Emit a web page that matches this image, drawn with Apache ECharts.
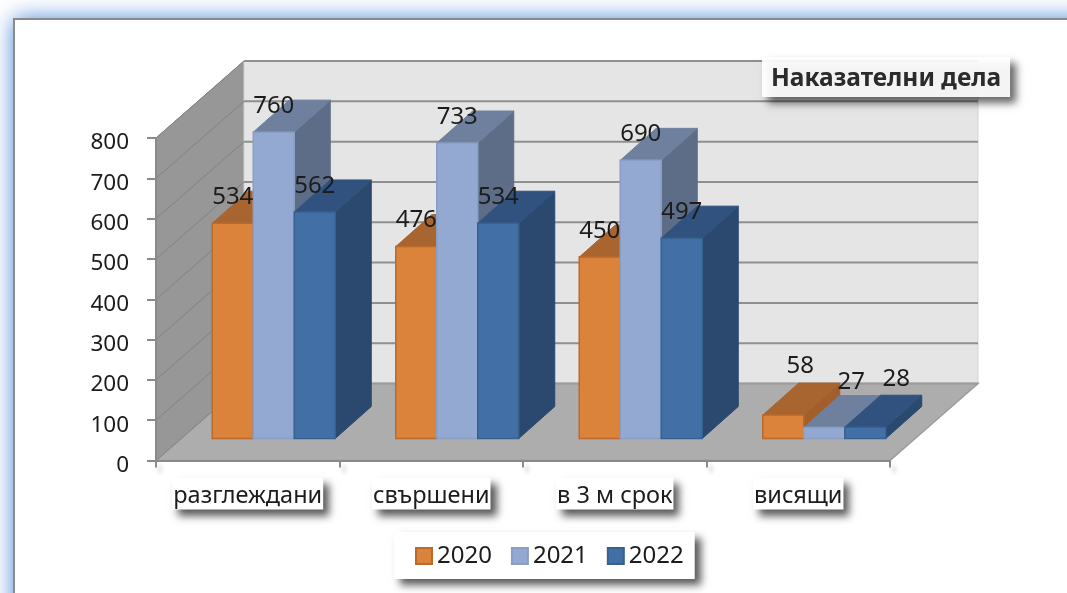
<!DOCTYPE html>
<html>
<head>
<meta charset="utf-8">
<style>
	html, body { margin: 0; padding: 0; background: #fff; }
	#chart { width: 1067px; height: 593px; }
</style>
<script src="https://cdn.jsdelivr.net/npm/echarts@6/dist/echarts.min.js"></script>
</head>
<body>
<div id="chart"></div>
<script>
const categories = ['разглеждани', 'свършени', 'в 3 м срок', 'висящи'];
const years = ['2020', '2021', '2022'];
const values2020 = [534, 476, 450, 58];
const values2021 = [760, 733, 690, 27];
const values2022 = [562, 534, 497, 28];
const yTicks = [0, 100, 200, 300, 400, 500, 600, 700, 800];

const FONT = '"Noto Sans", "Open Sans", sans-serif';
const TEXT = '#1c1c1c';
// depth of the fake 3d box, and where the bars stand on the floor
const WALL_DX = 88, WALL_DY = -77;
const FLOOR_DX = 26, FLOOR_DY = -22;
const BAR_DX = 36, BAR_DY = -32;
const BAR_W = 41;

const barStyles = [
	{ front: '#db823b', top: '#a9652f', side: '#a35f2b', border: '#b96a2c' },
	{ front: '#93a9d1', top: '#6f809f', side: '#5d6d88', border: '#8a9dc2' },
	{ front: '#4270a6', top: '#31527f', side: '#2b486f', border: '#37618f' }
];
// labels of the small group sit further off the bar, as the source has them
const smallGroupLabelShift = [[17, -49], [27, -45], [31, -48]];

const renderWalls = (params, api) => {
	const cs = params.coordSys;
	const x0 = cs.x, x1 = cs.x + cs.width;
	const yBase = api.coord([0, 0])[1];
	const yTop = api.coord([0, yTicks[yTicks.length - 1]])[1];
	const children = [
		{
			type: 'polygon',
			shape: { points: [[x0, yBase], [x0, yTop], [x0 + WALL_DX, yTop + WALL_DY], [x0 + WALL_DX, yBase + WALL_DY]] },
			style: { fill: '#979797', stroke: '#8c8c8c', lineWidth: 1 }
		},
		{
			type: 'polygon',
			shape: { points: [[x0 + WALL_DX, yTop + WALL_DY], [x1 + WALL_DX, yTop + WALL_DY], [x1 + WALL_DX, yBase + WALL_DY], [x0 + WALL_DX, yBase + WALL_DY]] },
			style: { fill: '#e5e5e5', stroke: '#d4d4d4', lineWidth: 1 }
		},
		{
			type: 'polygon',
			shape: { points: [[x0, yBase], [x0 + WALL_DX, yBase + WALL_DY], [x1 + WALL_DX, yBase + WALL_DY], [x1, yBase]] },
			style: { fill: '#adadad', stroke: '#9c9c9c', lineWidth: 1.5 }
		}
	];
	yTicks.forEach((t) => {
		const y = api.coord([0, t])[1];
		children.push({
			type: 'polyline',
			shape: { points: [[x0, y], [x0 + WALL_DX, y + WALL_DY]] },
			style: { fill: null, stroke: '#828282', lineWidth: 1 }
		});
		children.push({
			type: 'line',
			shape: { x1: x0 + WALL_DX, y1: y + WALL_DY, x2: x1 + WALL_DX, y2: y + WALL_DY },
			style: { stroke: t === 0 ? '#9c9c9c' : '#8f8f8f', lineWidth: 2 }
		});
	});
	return { type: 'group', children };
};

const renderBar = (s) => (params, api) => {
	const cat = api.value(0);
	const value = api.value(1);
	const style = barStyles[s];
	const base = api.coord([cat, 0]);
	const top = api.coord([cat, value]);
	const l = base[0] + FLOOR_DX + (s - 1.5) * BAR_W;
	const r = l + BAR_W;
	const yt = top[1] + FLOOR_DY;
	const yb = base[1] + FLOOR_DY;
	const shift = cat === categories.length - 1 ? smallGroupLabelShift[s] : [0, -26];
	const face = (points, fill) => ({
		type: 'polygon',
		shape: { points },
		style: { fill, stroke: fill, lineWidth: 1, lineJoin: 'round' }
	});
	return {
		type: 'group',
		children: [
			face([[r, yb], [r + BAR_DX, yb + BAR_DY], [r + BAR_DX, yt + BAR_DY], [r, yt]], style.side),
			face([[l, yt], [l + BAR_DX, yt + BAR_DY], [r + BAR_DX, yt + BAR_DY], [r, yt]], style.top),
			{
				type: 'rect',
				shape: { x: l, y: yt, width: BAR_W, height: yb - yt },
				style: { fill: style.front, stroke: style.border, lineWidth: 1.5 }
			},
			{
				type: 'text',
				z2: 100,
				style: {
					x: (l + r) / 2 + shift[0],
					y: yt + shift[1],
					text: String(value),
					fill: TEXT,
					font: '24px ' + FONT,
					align: 'center',
					verticalAlign: 'middle'
				}
			}
		]
	};
};

const boxShadow = {
	shadowColor: 'rgba(0,0,0,0.65)',
	shadowBlur: 8,
	shadowOffsetX: 6,
	shadowOffsetY: 6
};

const chart = echarts.init(document.getElementById('chart'), null, { renderer: 'canvas' });
chart.setOption({
	animation: false,
	backgroundColor: '#fff',
	graphic: [
		// blue glow of the outer frame
		{
			type: 'rect',
			z: -11,
			silent: true,
			shape: { x: 14, y: 19, width: 1300, height: 800 },
			style: { fill: '#fff', shadowColor: '#3f7fd4', shadowBlur: 22 }
		},
		{
			type: 'rect',
			z: -10,
			silent: true,
			shape: { x: 14, y: 19, width: 1300, height: 800 },
			style: { fill: '#fff', stroke: '#8a8a8a', lineWidth: 2 }
		}
	],
	title: {
		text: 'Наказателни дела',
		left: 762,
		top: 57,
		padding: [7, 9, 3, 9],
		backgroundColor: 'rgba(255,255,255,0.93)',
		...boxShadow,
		textStyle: { fontFamily: FONT, fontSize: 24.5, fontWeight: 'bold', color: '#2b2b2b', lineHeight: 30 }
	},
	legend: {
		data: years.map((name, i) => ({
			name,
			itemStyle: { color: barStyles[i].front, borderColor: barStyles[i].border, borderWidth: 2 }
		})),
		left: 394,
		top: 532,
		icon: 'rect',
		itemWidth: 16,
		itemHeight: 16,
		itemGap: 19,
		padding: [9, 11, 8, 21],
		backgroundColor: '#fff',
		...boxShadow,
		textStyle: { fontFamily: FONT, fontSize: 24, color: TEXT, lineHeight: 30 }
	},
	grid: { left: 156, right: 177, top: 138, bottom: 132.5 },
	xAxis: {
		type: 'category',
		data: categories,
		z: 5,
		axisLine: { lineStyle: { color: '#8a8a8a', width: 2 } },
		axisTick: {
			show: true,
			interval: 0,
			alignWithLabel: false,
			length: 7,
			lineStyle: { color: '#8a8a8a', width: 2, shadowColor: 'rgba(0,0,0,0.25)', shadowBlur: 4, shadowOffsetX: 4, shadowOffsetY: 5 }
		},
		axisLabel: {
			interval: 0,
			margin: 17,
			fontFamily: FONT,
			fontSize: 23.5,
			color: TEXT,
			lineHeight: 27,
			padding: [5, 1, 0, 1],
			backgroundColor: '#fff',
			...boxShadow
		}
	},
	yAxis: {
		type: 'value',
		min: 0,
		max: 800,
		interval: 100,
		z: 5,
		splitLine: { show: false },
		axisLine: { show: true, lineStyle: { color: '#8a8a8a', width: 2 } },
		axisTick: { show: true, length: 9, lineStyle: { color: '#8a8a8a', width: 2 } },
		axisLabel: { margin: 27, fontFamily: FONT, fontSize: 22.5, color: TEXT, verticalAlign: 'top', lineHeight: 10 }
	},
	series: [
		{
			name: 'walls',
			type: 'custom',
			z: 1,
			silent: true,
			data: [[0, 0]],
			encode: { x: 0, y: 1 },
			renderItem: renderWalls
		},
		...[values2020, values2021, values2022].map((values, s) => ({
			name: years[s],
			type: 'custom',
			z: 2,
			itemStyle: { color: barStyles[s].front, borderColor: barStyles[s].border },
			encode: { x: 0, y: 1 },
			data: values.map((v, i) => [i, v]),
			renderItem: renderBar(s)
		}))
	]
});
</script>
</body>
</html>
